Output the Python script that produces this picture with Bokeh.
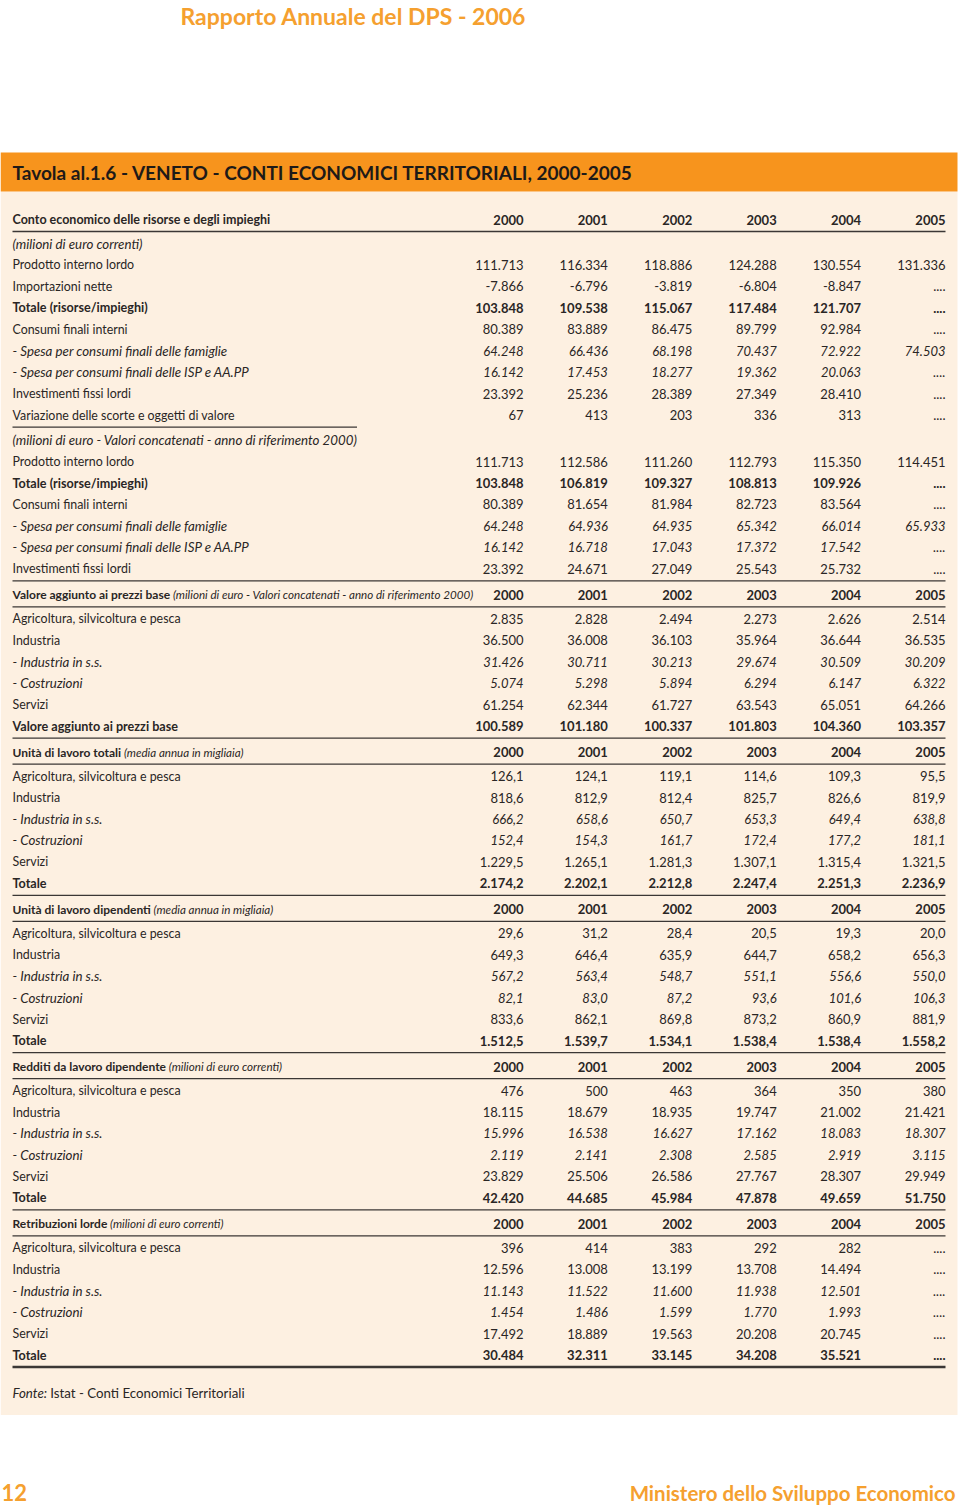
import glob
from bokeh.plotting import figure
from bokeh.models import ColumnDataSource, Range1d
from bokeh.core.properties import value
from bokeh.embed import file_html
from bokeh.resources import INLINE

# ---------------- data ----------------
years = ["2000", "2001", "2002", "2003", "2004", "2005"]

page_title = "Rapporto Annuale del DPS - 2006"
table_title = "Tavola al.1.6 - VENETO - CONTI ECONOMICI TERRITORIALI, 2000-2005"
footer_left = "12"
footer_right = "Ministero dello Sviluppo Economico"
source_label = "Fonte:"
source_text = "Istat - Conti Economici Territoriali"

# Section A: current prices
head_a = "Conto economico delle risorse e degli impieghi"
sub_a = "(milioni di euro correnti)"
labels_a = ["Prodotto interno lordo", "Importazioni nette", "Totale (risorse/impieghi)",
            "Consumi finali interni", "- Spesa per consumi finali delle famiglie",
            "- Spesa per consumi finali delle ISP e AA.PP", "Investimenti fissi lordi",
            "Variazione delle scorte e oggetti di valore"]
styles_a = ["normal", "normal", "bold", "normal", "italic", "italic", "normal", "normal"]
values_a = [
    ["111.713", "116.334", "118.886", "124.288", "130.554", "131.336"],
    ["-7.866", "-6.796", "-3.819", "-6.804", "-8.847", "...."],
    ["103.848", "109.538", "115.067", "117.484", "121.707", "...."],
    ["80.389", "83.889", "86.475", "89.799", "92.984", "...."],
    ["64.248", "66.436", "68.198", "70.437", "72.922", "74.503"],
    ["16.142", "17.453", "18.277", "19.362", "20.063", "...."],
    ["23.392", "25.236", "28.389", "27.349", "28.410", "...."],
    ["67", "413", "203", "336", "313", "...."],
]

# Section B: chained values
sub_b = "(milioni di euro - Valori concatenati - anno di riferimento 2000)"
labels_b = ["Prodotto interno lordo", "Totale (risorse/impieghi)", "Consumi finali interni",
            "- Spesa per consumi finali delle famiglie",
            "- Spesa per consumi finali delle ISP e AA.PP", "Investimenti fissi lordi"]
styles_b = ["normal", "bold", "normal", "italic", "italic", "normal"]
values_b = [
    ["111.713", "112.586", "111.260", "112.793", "115.350", "114.451"],
    ["103.848", "106.819", "109.327", "108.813", "109.926", "...."],
    ["80.389", "81.654", "81.984", "82.723", "83.564", "...."],
    ["64.248", "64.936", "64.935", "65.342", "66.014", "65.933"],
    ["16.142", "16.718", "17.043", "17.372", "17.542", "...."],
    ["23.392", "24.671", "27.049", "25.543", "25.732", "...."],
]

sector_labels = ["Agricoltura, silvicoltura e pesca", "Industria", "- Industria in s.s.",
                 "- Costruzioni", "Servizi"]
sector_styles = ["normal", "normal", "italic", "italic", "normal", "bold"]

head_c = ("Valore aggiunto ai prezzi base",
          "(milioni di euro - Valori concatenati - anno di riferimento 2000)")
total_c = "Valore aggiunto ai prezzi base"
values_c = [
    ["2.835", "2.828", "2.494", "2.273", "2.626", "2.514"],
    ["36.500", "36.008", "36.103", "35.964", "36.644", "36.535"],
    ["31.426", "30.711", "30.213", "29.674", "30.509", "30.209"],
    ["5.074", "5.298", "5.894", "6.294", "6.147", "6.322"],
    ["61.254", "62.344", "61.727", "63.543", "65.051", "64.266"],
    ["100.589", "101.180", "100.337", "101.803", "104.360", "103.357"],
]

head_d = ("Unità di lavoro totali", "(media annua in migliaia)")
values_d = [
    ["126,1", "124,1", "119,1", "114,6", "109,3", "95,5"],
    ["818,6", "812,9", "812,4", "825,7", "826,6", "819,9"],
    ["666,2", "658,6", "650,7", "653,3", "649,4", "638,8"],
    ["152,4", "154,3", "161,7", "172,4", "177,2", "181,1"],
    ["1.229,5", "1.265,1", "1.281,3", "1.307,1", "1.315,4", "1.321,5"],
    ["2.174,2", "2.202,1", "2.212,8", "2.247,4", "2.251,3", "2.236,9"],
]

head_e = ("Unità di lavoro dipendenti", "(media annua in migliaia)")
values_e = [
    ["29,6", "31,2", "28,4", "20,5", "19,3", "20,0"],
    ["649,3", "646,4", "635,9", "644,7", "658,2", "656,3"],
    ["567,2", "563,4", "548,7", "551,1", "556,6", "550,0"],
    ["82,1", "83,0", "87,2", "93,6", "101,6", "106,3"],
    ["833,6", "862,1", "869,8", "873,2", "860,9", "881,9"],
    ["1.512,5", "1.539,7", "1.534,1", "1.538,4", "1.538,4", "1.558,2"],
]

head_f = ("Redditi da lavoro dipendente", "(milioni di euro correnti)")
values_f = [
    ["476", "500", "463", "364", "350", "380"],
    ["18.115", "18.679", "18.935", "19.747", "21.002", "21.421"],
    ["15.996", "16.538", "16.627", "17.162", "18.083", "18.307"],
    ["2.119", "2.141", "2.308", "2.585", "2.919", "3.115"],
    ["23.829", "25.506", "26.586", "27.767", "28.307", "29.949"],
    ["42.420", "44.685", "45.984", "47.878", "49.659", "51.750"],
]

head_g = ("Retribuzioni lorde", "(milioni di euro correnti)")
values_g = [
    ["396", "414", "383", "292", "282", "...."],
    ["12.596", "13.008", "13.199", "13.708", "14.494", "...."],
    ["11.143", "11.522", "11.600", "11.938", "12.501", "...."],
    ["1.454", "1.486", "1.599", "1.770", "1.993", "...."],
    ["17.492", "18.889", "19.563", "20.208", "20.745", "...."],
    ["30.484", "32.311", "33.145", "34.208", "35.521", "...."],
]

# ---------------- style ----------------
FONT = "Lato"
LABEL_SIZE = {"normal": 12.4, "bold": 12.6, "italic": 13.3}
NUM_SIZE = 13.0
YEAR_SIZE = 13.0
HEAD_BOLD = 12.0
HEAD_ITAL = 11.6
INK = "#2a2625"
ORANGE = "#F7941D"
ORANGE_TXT = "#F5A02F"
PALE = "#FDF0E1"
RULE = "#3b3735"

W, H = 958, 1506

try:
    from PIL import ImageFont
    _paths = {}
    for key, pat in [("normal", "Lato-Regular.ttf"), ("bold", "Lato-Bold.ttf"),
                     ("italic", "Lato-Italic.ttf")]:
        hits = glob.glob("/usr/share/fonts/**/" + pat, recursive=True)
        _paths[key] = hits[0] if hits else None
except Exception:
    ImageFont = None
    _paths = {}


def text_width(txt, style, size):
    path = _paths.get(style)
    if ImageFont is not None and path:
        try:
            return ImageFont.truetype(path, size).getlength(txt)
        except Exception:
            pass
    return len(txt) * size * (0.53 if style == "bold" else 0.49)


# ---------------- layout ----------------
LEFT = 12
RIGHT = 945
col_right = [523 + i * 84.4 for i in range(6)]
ROW = 21.45

lab = dict(x=[], y=[], t=[], s=[], z=[])
num = dict(x=[], y=[], t=[], s=[], z=[])
rules = dict(x0=[], x1=[], y0=[], y1=[], w=[])


def add_label(x, y, t, s, size):
    lab["x"].append(x); lab["y"].append(y); lab["t"].append(t); lab["s"].append(s)
    lab["z"].append(f"{size}px")


def add_values(y, vals, s, size=NUM_SIZE):
    for cx, v in zip(col_right, vals):
        num["x"].append(cx); num["y"].append(y); num["t"].append(v); num["s"].append(s)
        num["z"].append(f"{size}px")


def add_rule(y, x0=LEFT, x1=RIGHT, w=1.3):
    rules["x0"].append(x0); rules["x1"].append(x1)
    rules["y0"].append(y); rules["y1"].append(y); rules["w"].append(w)


def header(y, bold_part, ital_part, bsize=HEAD_BOLD):
    add_label(LEFT, y, bold_part, "bold", bsize)
    if ital_part:
        x2 = LEFT + text_width(bold_part, "bold", bsize) + text_width(" ", "italic", HEAD_ITAL)
        add_label(x2, y, ital_part, "italic", HEAD_ITAL)
    add_values(y, years, "bold", YEAR_SIZE)
    add_rule(y + 12)


# Section A
y = 219
header(y, head_a, None, 12.5)
y += 24
add_label(LEFT, y, sub_a, "italic", LABEL_SIZE["italic"])
for lbl, st, vals in zip(labels_a, styles_a, values_a):
    y += ROW
    add_label(LEFT, y, lbl, st, LABEL_SIZE[st])
    add_values(y, vals, st)
add_rule(y + 12, LEFT, LEFT + text_width(sub_b, "italic", LABEL_SIZE["italic"]))

# Section B
y += 25
add_label(LEFT, y, sub_b, "italic", LABEL_SIZE["italic"])
for lbl, st, vals in zip(labels_b, styles_b, values_b):
    y += ROW
    add_label(LEFT, y, lbl, st, LABEL_SIZE[st])
    add_values(y, vals, st)
add_rule(y + 12)

# Sections C..G
blocks = [(head_c, total_c, values_c), (head_d, "Totale", values_d),
          (head_e, "Totale", values_e), (head_f, "Totale", values_f),
          (head_g, "Totale", values_g)]
for bi, (hd, tot, vals_list) in enumerate(blocks):
    y += 26
    header(y, hd[0], hd[1])
    y += 24 - ROW
    for lbl, st, vals in zip(sector_labels + [tot], sector_styles, vals_list):
        y += ROW
        add_label(LEFT, y, lbl, st, LABEL_SIZE[st])
        add_values(y, vals, st)
    if bi < len(blocks) - 1:
        add_rule(y + 12)
    else:
        add_rule(y + 12, w=2.4)
last_row_y = y

# ---------------- figure ----------------
p = figure(width=W, height=H, x_range=Range1d(0, W), y_range=Range1d(H, 0),
           output_backend="svg", toolbar_location=None, min_border=0)
p.axis.visible = False
p.grid.visible = False
p.outline_line_color = None
p.background_fill_color = "white"
p.border_fill_color = "white"

# pale panel and orange band
p.quad(left=[0], right=[957], top=[191], bottom=[last_row_y + 60], fill_color=PALE, line_color=None)
p.quad(left=[0], right=[957], top=[152], bottom=[191], fill_color=ORANGE, line_color=None)

p.segment(x0="x0", x1="x1", y0="y0", y1="y1", line_width="w", line_color=RULE,
          source=ColumnDataSource(rules))

p.text(x="x", y="y", text="t", text_font_style="s", text_font_size="z",
       source=ColumnDataSource(lab), text_font=value(FONT), text_color=INK,
       text_align="left", text_baseline="middle")
p.text(x="x", y="y", text="t", text_font_style="s", text_font_size="z",
       source=ColumnDataSource(num), text_font=value(FONT), text_color=INK,
       text_align="right", text_baseline="middle")

# titles
p.text(x=[180], y=[15], text=[page_title], text_font=value(FONT), text_font_style="bold",
       text_font_size=value("23px"), text_color=ORANGE_TXT, text_align="left", text_baseline="middle")
p.text(x=[LEFT], y=[172], text=[table_title], text_font=value(FONT), text_font_style="bold",
       text_font_size=value("19px"), text_color="#1e1a18", text_align="left", text_baseline="middle")

# source note
src_y = last_row_y + 38
p.text(x=[LEFT], y=[src_y], text=[source_label], text_font=value(FONT), text_font_style="italic",
       text_font_size=value("13.3px"), text_color=INK, text_align="left", text_baseline="middle")
p.text(x=[LEFT + text_width(source_label + " ", "italic", 13.3)], y=[src_y], text=[source_text],
       text_font=value(FONT), text_font_style="normal", text_font_size=value("13.3px"),
       text_color=INK, text_align="left", text_baseline="middle")

# footer
p.text(x=[1], y=[1492], text=[footer_left], text_font=value(FONT), text_font_style="bold",
       text_font_size=value("22px"), text_color=ORANGE_TXT, text_align="left", text_baseline="middle")
p.text(x=[955], y=[1492], text=[footer_right], text_font=value(FONT), text_font_style="bold",
       text_font_size=value("20.5px"), text_color=ORANGE_TXT, text_align="right", text_baseline="middle")

open("out.html", "w").write(file_html(p, INLINE))
